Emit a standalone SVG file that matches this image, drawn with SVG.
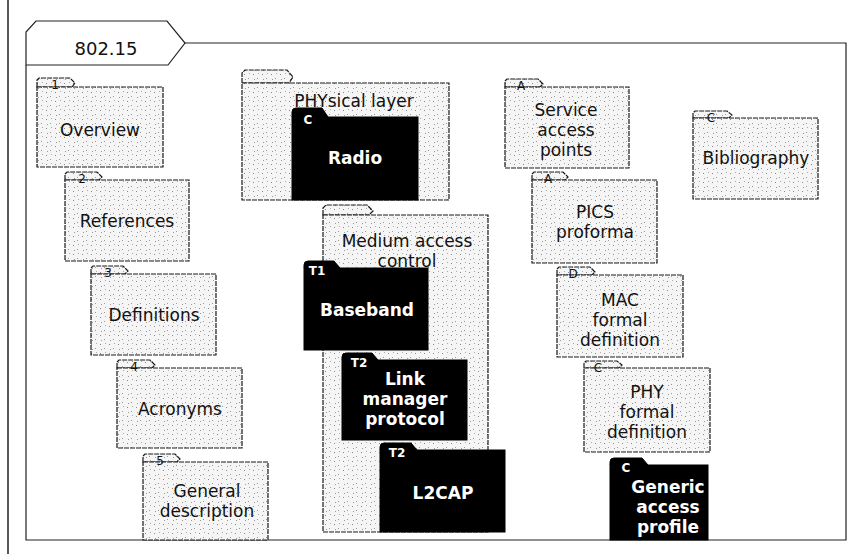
<svg xmlns="http://www.w3.org/2000/svg" width="862" height="554" viewBox="0 0 862 554">
<style>
  .frame{fill:none;stroke:#222;stroke-width:1.2}
  .lt{fill:url(#dots);stroke:#1a1a1a;stroke-width:1.2;stroke-dasharray:5 1}
  .dk{fill:#000;stroke:#000;stroke-width:1}
  .t{font-family:"DejaVu Sans","Liberation Sans",sans-serif;font-size:17px;fill:#111;text-anchor:middle}
  .w{font-family:"DejaVu Sans","Liberation Sans",sans-serif;font-size:17px;font-weight:700;fill:#fff;text-anchor:middle}
  .tab{font-family:"DejaVu Sans","Liberation Sans",sans-serif;font-size:12px;fill:#111;text-anchor:middle}
  .tabw{font-family:"DejaVu Sans","Liberation Sans",sans-serif;font-size:12px;font-weight:700;fill:#fff;text-anchor:middle}
</style>
<defs>
  <pattern id="dots" width="9" height="9" patternUnits="userSpaceOnUse">
    <rect width="9" height="9" fill="#f5f5f5"/>
    <rect x="1" y="2" width="1" height="1" fill="#888"/>
    <rect x="5" y="6" width="1" height="1" fill="#999"/>
    <rect x="6" y="1" width="1" height="1" fill="#aaa"/>
    <rect x="2" y="7" width="1" height="1" fill="#9a9a9a"/>
  </pattern>
</defs>

<line x1="8" y1="0" x2="8" y2="554" stroke="#222" stroke-width="1.5"/>

<g id="frame">
  <path class="frame" d="M185,43 L846,43 L846,540 L26,540 L26,65"/>
  <path class="frame" d="M26,65 L26,32 L36,21 L167,21 L185,43 L168,65 Z" fill="#fff"/>
  <text class="t" x="106" y="55" style="font-size:18px">802.15</text>
</g>

<g id="overview">
  <path class="lt" d="M37,87 L37,80 L39,78 L70,78 L75,83 L72,87 Z"/>
  <rect class="lt" x="37" y="87" width="126" height="80"/>
  <text class="tab" x="55" y="89">1</text>
  <text class="t" x="100" y="136">Overview</text>
</g>
<g id="references">
  <path class="lt" d="M65,180 L65,174 L67,172 L97,172 L102,177 L99,180 Z"/>
  <rect class="lt" x="65" y="180" width="124" height="81"/>
  <text class="tab" x="82" y="183">2</text>
  <text class="t" x="127" y="227">References</text>
</g>
<g id="definitions">
  <path class="lt" d="M91,274 L91,268 L93,266 L123,266 L128,271 L125,274 Z"/>
  <rect class="lt" x="91" y="274" width="125" height="81"/>
  <text class="tab" x="108" y="277">3</text>
  <text class="t" x="154" y="321">Definitions</text>
</g>
<g id="acronyms">
  <path class="lt" d="M117,368 L117,362 L119,360 L150,360 L155,365 L152,368 Z"/>
  <rect class="lt" x="117" y="368" width="125" height="80"/>
  <text class="tab" x="134" y="371">4</text>
  <text class="t" x="180" y="415">Acronyms</text>
</g>
<g id="general">
  <path class="lt" d="M143,462 L143,456 L145,454 L175,454 L180,459 L177,462 Z"/>
  <rect class="lt" x="143" y="462" width="125" height="78"/>
  <text class="tab" x="160" y="465">5</text>
  <text class="t" x="207" y="497">General</text>
  <text class="t" x="207" y="517">description</text>
</g>

<g id="phy">
  <path class="lt" d="M242,83 L242,73 L245,70 L287,70 L293,77 L289,83 Z"/>
  <rect class="lt" x="242" y="83" width="207" height="117"/>
  <text class="t" x="354" y="107">PHYsical layer</text>
</g>
<g id="radio">
  <path class="dk" d="M292,117 L292,112 Q292,108 296,108 L322,108 L328,117 Z"/>
  <rect class="dk" x="292" y="117" width="126" height="83"/>
  <text class="tabw" x="308" y="124">C</text>
  <text class="w" x="355" y="164">Radio</text>
</g>

<g id="mac">
  <path class="lt" d="M323,215 L323,208 L326,205 L367,205 L373,211 L369,215 Z"/>
  <rect class="lt" x="323" y="215" width="165" height="317"/>
  <text class="t" x="407" y="247">Medium access</text>
  <text class="t" x="407" y="267">control</text>
</g>
<g id="baseband">
  <path class="dk" d="M304,268 L304,265 Q304,261 308,261 L334,261 L340,268 Z"/>
  <rect class="dk" x="304" y="268" width="124" height="82"/>
  <text class="tabw" x="317" y="275">T1</text>
  <text class="w" x="367" y="316">Baseband</text>
</g>
<g id="lmp">
  <path class="dk" d="M342,360 L342,357 Q342,353 346,353 L372,353 L378,360 Z"/>
  <rect class="dk" x="342" y="360" width="125" height="80"/>
  <text class="tabw" x="359" y="367">T2</text>
  <text class="w" x="405" y="385">Link</text>
  <text class="w" x="405" y="405">manager</text>
  <text class="w" x="405" y="425">protocol</text>
</g>
<g id="l2cap">
  <path class="dk" d="M380,450 L380,447 Q380,443 384,443 L411,443 L417,450 Z"/>
  <rect class="dk" x="380" y="450" width="125" height="82"/>
  <text class="tabw" x="397" y="457">T2</text>
  <text class="w" x="443" y="499">L2CAP</text>
</g>

<g id="sap">
  <path class="lt" d="M505,87 L505,81 L507,79 L538,79 L543,84 L540,87 Z"/>
  <rect class="lt" x="505" y="87" width="124" height="81"/>
  <text class="tab" x="521" y="90">A</text>
  <text class="t" x="566" y="116">Service</text>
  <text class="t" x="566" y="136">access</text>
  <text class="t" x="566" y="156">points</text>
</g>
<g id="pics">
  <path class="lt" d="M532,180 L532,174 L534,172 L563,172 L568,177 L565,180 Z"/>
  <rect class="lt" x="532" y="180" width="125" height="83"/>
  <text class="tab" x="548" y="183">A</text>
  <text class="t" x="595" y="218">PICS</text>
  <text class="t" x="595" y="238">proforma</text>
</g>
<g id="macformal">
  <path class="lt" d="M557,275 L557,269 L559,267 L590,267 L595,272 L592,275 Z"/>
  <rect class="lt" x="557" y="275" width="126" height="82"/>
  <text class="tab" x="573" y="278">D</text>
  <text class="t" x="620" y="306">MAC</text>
  <text class="t" x="620" y="326">formal</text>
  <text class="t" x="620" y="346">definition</text>
</g>
<g id="phyformal">
  <path class="lt" d="M584,368 L584,363 L586,361 L617,361 L622,365 L619,368 Z"/>
  <rect class="lt" x="584" y="368" width="126" height="84"/>
  <text class="tab" x="598" y="372">C</text>
  <text class="t" x="647" y="398">PHY</text>
  <text class="t" x="647" y="418">formal</text>
  <text class="t" x="647" y="438">definition</text>
</g>
<g id="gap">
  <path class="dk" d="M610,465 L610,462 Q610,458 614,458 L642,458 L648,465 Z"/>
  <rect class="dk" x="610" y="465" width="98" height="75"/>
  <text class="tabw" x="626" y="472">C</text>
  <text class="w" x="668" y="493">Generic</text>
  <text class="w" x="668" y="513">access</text>
  <text class="w" x="668" y="533">profile</text>
</g>
<g id="bibliography">
  <path class="lt" d="M693,118 L693,113 L695,111 L727,111 L732,115 L729,118 Z"/>
  <rect class="lt" x="693" y="118" width="125" height="81"/>
  <text class="tab" x="711" y="122">C</text>
  <text class="t" x="756" y="164">Bibliography</text>
</g>

<g id="connectors"></g>
</svg>
